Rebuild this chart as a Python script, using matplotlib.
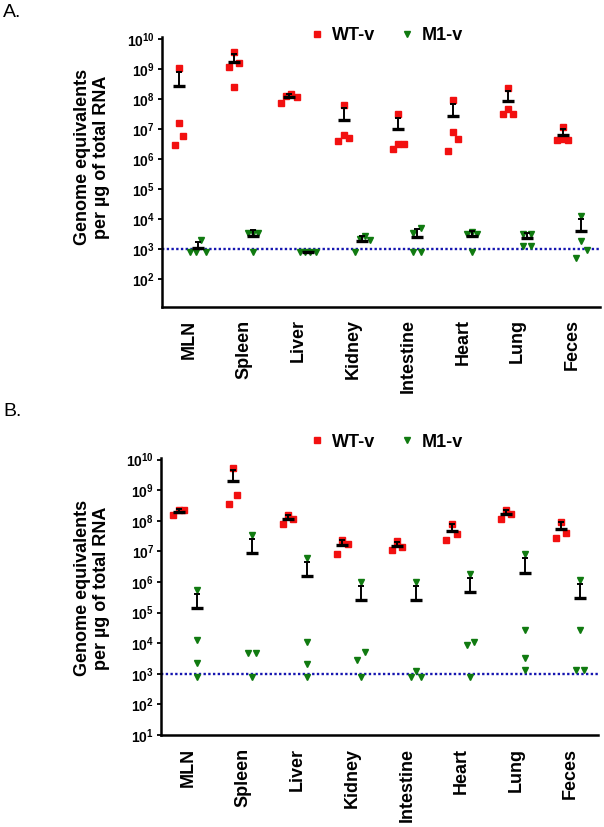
import numpy as np
import matplotlib
matplotlib.use('Agg')
import matplotlib.pyplot as plt
from matplotlib.lines import Line2D

plt.rcParams['font.family'] = ['Liberation Sans', 'DejaVu Sans']
plt.rcParams['mathtext.fontset'] = 'custom'
plt.rcParams['mathtext.rm'] = 'Liberation Sans'
plt.rcParams['mathtext.bf'] = 'Liberation Sans:bold'

tissues = ['MLN', 'Spleen', 'Liver', 'Kidney', 'Intestine', 'Heart', 'Lung', 'Feces']

# panel A: genome equivalents per animal
wt_a = [
    [1.05e9, 1.55e7, 6.0e6, 2.9e6],
    [3.8e9, 1.6e9, 1.2e9, 2.6e8],
    [1.5e8, 1.3e8, 1.15e8, 7.2e7],
    [6.3e7, 6.3e6, 4.1e6, 5.2e6],
    [3.1e7, 3.2e6, 2.1e6, 3.2e6],
    [9.3e7, 8.1e6, 4.6e6, 1.9e6],
    [2.3e8, 4.6e7, 3.2e7, 3.2e7],
    [1.2e7, 4.7e6, 4.2e6, 4.4e6],
]
m1_a = [
    [2.0e3, 830, 830, 830],
    [3.5e3, 3.5e3, 3.5e3, 820],
    [780, 780, 780, 780],
    [2.2e3, 2.0e3, 2.7e3, 800],
    [4.9e3, 3.5e3, 780, 780],
    [3.3e3, 3.3e3, 3.8e3, 780],
    [3.3e3, 3.3e3, 1.3e3, 1.3e3],
    [1.3e4, 1.9e3, 940, 520],
]

# panel B
wt_b = [
    [2.2e8, 2.2e8, 1.5e8],
    [5.1e9, 6.9e8, 3.4e8],
    [1.5e8, 1.15e8, 7.6e7],
    [2.3e7, 1.7e7, 8.5e6],
    [2.1e7, 1.4e7, 1.1e7],
    [8.0e7, 3.6e7, 2.3e7],
    [2.2e8, 1.7e8, 1.1e8],
    [9.3e7, 4.1e7, 2.8e7],
]
m1_b = [
    [5.4e5, 1.3e4, 2.2e3, 790],
    [3.5e7, 4.9e3, 4.9e3, 790],
    [6.2e6, 1.1e4, 2.1e3, 790],
    [1.0e6, 5.1e3, 2.8e3, 790],
    [1.0e6, 1.2e3, 790, 790],
    [1.85e6, 1.1e4, 8.7e3, 790],
    [7.9e6, 2.8e4, 3.4e3, 1.3e3],
    [1.15e6, 2.6e4, 1.35e3, 1.3e3],
]

detection_limit = 1e3
yexp_a = list(range(2, 11))
yexp_b = list(range(1, 11))

RED = '#f21010'
GREEN = '#107a10'
BLUE = '#1515b0'


def spread(vals, gap=0.4, slot=0.095):
    # put points with close values side by side
    logs = np.log10(vals)
    order = np.argsort(-logs, kind='stable')
    rows = []
    for i in order:
        if rows and logs[rows[-1][-1]] - logs[i] < gap:
            rows[-1].append(i)
        else:
            rows.append([i])
    offs = np.zeros(len(vals))
    for row in rows:
        k = len(row)
        pos = np.arange(k) - (k - 1) / 2.
        if k == 2:
            pos = pos * 1.5
        pos = sorted(pos, key=lambda p: (abs(p), -p))
        for i, p in zip(row, pos):
            offs[i] = p * slot
    return offs


def draw_panel(ax, wt, m1, ylim, yexps):
    for i, (w, m) in enumerate(zip(wt, m1)):
        for vals, shift, mk, col in [(w, -0.18, 's', RED), (m, 0.165, 'v', GREEN)]:
            vals = np.array(vals, dtype=float)
            xc = i + 1 + shift
            ax.plot(xc + spread(vals), vals, ls='none', marker=mk, ms=4.8,
                    color=col, mec=col, zorder=3)
            mean = vals.mean()
            sd = vals.std(ddof=1)
            ax.errorbar([xc], [mean], yerr=[[0], [sd]], fmt='none', ecolor='black',
                        elinewidth=1.4, capsize=2.5, capthick=1.4, zorder=4)
            ax.plot([xc], [mean], marker='_', ms=8, mew=2.4, color='black', zorder=5)

    ax.axhline(detection_limit, color=BLUE, ls=(0, (1, 1)), lw=1.7, zorder=2)
    ax.set_yscale('log')
    ax.set_ylim(*ylim)
    ax.set_xlim(0.5, 8.5)
    ax.set_yticks([10.0 ** e for e in yexps])
    ax.set_yticklabels([r'$\mathbf{10^{%d}}$' % e for e in yexps])
    ax.minorticks_off()
    ax.set_xticks(range(1, 9))
    ax.set_xticklabels(tissues, rotation=90, fontsize=13, fontweight='bold')
    ax.tick_params(axis='x', length=0, pad=9)
    ax.tick_params(axis='y', direction='out', length=3, width=1.3, labelsize=10, pad=2)
    for s in ['top', 'right']:
        ax.spines[s].set_visible(False)
    for s in ['left', 'bottom']:
        ax.spines[s].set_linewidth(1.8)


fig = plt.figure(figsize=(6.04, 8.27), dpi=100)
ax_a = fig.add_axes([0.268, 0.6288, 0.725, 0.3265])
ax_b = fig.add_axes([0.2666, 0.1112, 0.7234, 0.335])

draw_panel(ax_a, wt_a, m1_a, (10 ** 1.07, 10 ** 10.07), yexp_a)
draw_panel(ax_b, wt_b, m1_b, (10 ** 1.0, 10 ** 10.05), yexp_b)

ylabel = 'Genome equivalents\nper \u00b5g of total RNA'
fig.text(0.152, 0.810, ylabel, rotation=90, ha='center', va='center',
         multialignment='center', fontsize=13, fontweight='bold')
fig.text(0.152, 0.289, ylabel, rotation=90, ha='center', va='center',
         multialignment='center', fontsize=13, fontweight='bold')

fig.text(0.005, 0.995, 'A.', ha='left', va='top', fontsize=14)
fig.text(0.005, 0.513, 'B.', ha='left', va='top', fontsize=14)

handles = [Line2D([], [], ls='none', marker='s', ms=5, color=RED),
           Line2D([], [], ls='none', marker='v', ms=5, color=GREEN)]
for yy in [0.957, 0.4655]:
    fig.legend(handles, ['WT-v', 'M1-v'], loc='center', bbox_to_anchor=(0.64, yy),
               ncol=2, frameon=False, handlelength=0.8, handletextpad=0.4,
               columnspacing=1.4, prop={'size': 13, 'weight': 'bold'})

fig.savefig('out.png', dpi=100)
